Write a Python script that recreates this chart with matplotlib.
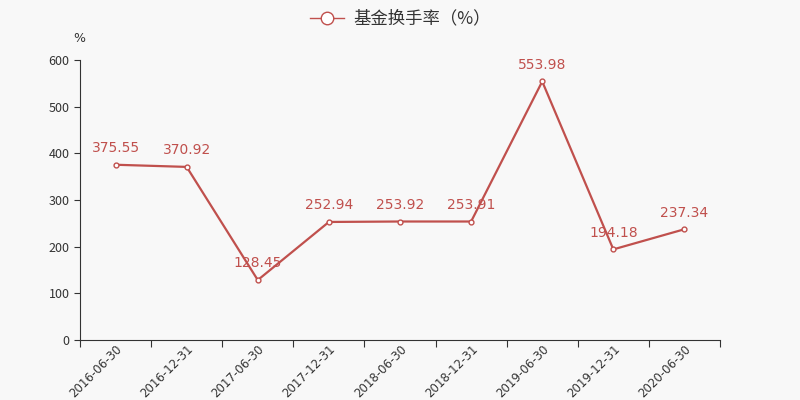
import numpy as np
import matplotlib.pyplot as plt
from matplotlib.lines import Line2D

plt.rcParams['font.family'] = ['Noto Sans CJK SC', 'DejaVu Sans']

dates = ['2016-06-30', '2016-12-31', '2017-06-30', '2017-12-31', '2018-06-30',
         '2018-12-31', '2019-06-30', '2019-12-31', '2020-06-30']
turnover = [375.55, 370.92, 128.45, 252.94, 253.92, 253.91, 553.98, 194.18, 237.34]

red = '#c0504d'
bg = '#f8f8f8'

fig = plt.figure(figsize=(8, 4), dpi=100, facecolor=bg)
ax = fig.add_axes([0.1, 0.15, 0.8, 0.7], facecolor=bg)

x = np.arange(len(dates))
ax.plot(x, turnover, color=red, lw=1.6, marker='o', ms=3.5,
        mfc='white', mec=red, mew=1)
for xi, v in zip(x, turnover):
    ax.annotate(f'{v:.2f}', (xi, v), xytext=(0, 7), textcoords='offset points',
                ha='center', va='bottom', color=red, fontsize=10,
                family=['DejaVu Sans'])

ax.set_xlim(-0.5, len(dates) - 0.5)
ax.set_ylim(0, 600)
ax.set_yticks(range(0, 601, 100))
ax.tick_params(axis='y', labelsize=9, colors='#333333', length=4)
ax.set_xticks(np.arange(-0.5, len(dates), 1))
ax.set_xticklabels([])
ax.set_xticks(x, minor=True)
ax.set_xticklabels(dates, minor=True, rotation=45, ha='right', va='top',
                   rotation_mode='anchor', fontsize=8.5, color='#333333',
                   family=['DejaVu Sans'])
ax.tick_params(axis='x', which='major', length=5, color='#333333')
ax.tick_params(axis='x', which='minor', length=0, pad=2)
for s in ['top', 'right']:
    ax.spines[s].set_visible(False)
ax.spines['left'].set_color('#333333')
ax.spines['bottom'].set_color('#333333')

fig.text(0.092, 0.895, '%', fontsize=9, color='#333333', family=['DejaVu Sans'])
handle = Line2D([], [], color=red, lw=1, marker='o', ms=9, mfc='white',
                mec=red, mew=1)
fig.legend(handles=[handle], labels=['基金换手率（%）'], loc='upper center',
           bbox_to_anchor=(0.5, 1.015), frameon=False, fontsize=12.5,
           handlelength=2.0, handletextpad=0.5, labelcolor='#333333')

fig.savefig('out.png', dpi=100, facecolor=bg)
